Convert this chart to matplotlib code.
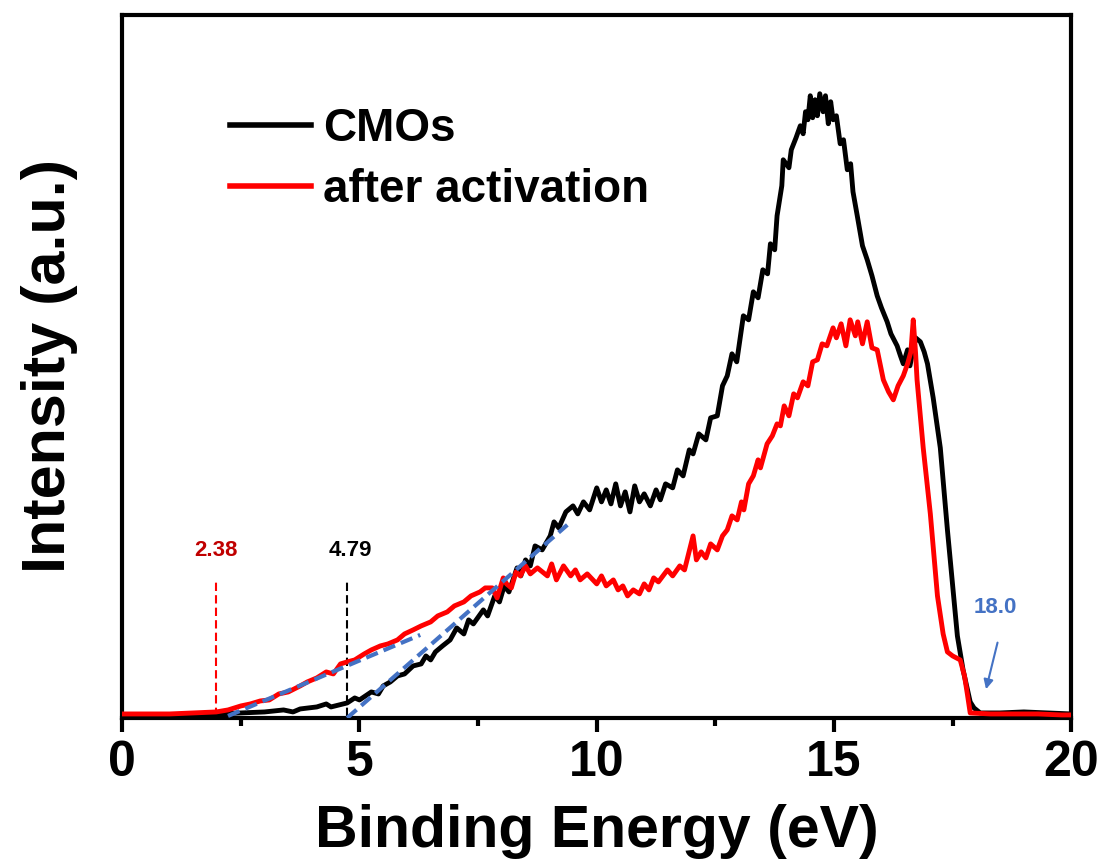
import numpy as np
import matplotlib
matplotlib.use('Agg')
import matplotlib.pyplot as plt

plt.rcParams['font.family'] = ['Liberation Sans', 'DejaVu Sans']
plt.rcParams['font.weight'] = 'bold'

# CMOs spectrum (binding energy eV, intensity a.u.)
cmo_x = [0, 0.5, 1.0, 1.5, 2.0, 2.5, 3.0, 3.4, 3.6, 3.75, 4.1, 4.3, 4.4, 4.74, 4.9,
         5.0, 5.25, 5.4, 5.5, 5.65, 5.8, 5.95, 6.13, 6.3, 6.4, 6.5, 6.6, 6.75, 6.91,
         7.05, 7.2, 7.3, 7.4, 7.61, 7.7, 7.85, 7.95, 8.05, 8.15, 8.32, 8.4, 8.5, 8.6,
         8.7, 8.85, 9.02, 9.1, 9.2, 9.35, 9.5, 9.6, 9.72, 9.85, 10.0, 10.1, 10.2, 10.3,
         10.4, 10.5, 10.6, 10.7, 10.8, 10.9, 11.0, 11.13, 11.25, 11.34, 11.45, 11.6,
         11.7, 11.82, 11.95, 12.03, 12.15, 12.3, 12.4, 12.54, 12.65, 12.75, 12.85,
         12.95, 13.09, 13.2, 13.3, 13.4, 13.5, 13.6, 13.66, 13.75, 13.8, 13.9, 13.93,
         14.05, 14.1, 14.2, 14.29, 14.35, 14.4, 14.45, 14.5, 14.55, 14.6, 14.65, 14.7,
         14.77, 14.82, 14.88, 14.93, 14.98, 15.05, 15.13, 15.2, 15.28, 15.35, 15.4,
         15.49, 15.6, 15.7, 15.8, 15.91, 16.0, 16.12, 16.2, 16.33, 16.4, 16.46, 16.55,
         16.6, 16.72, 16.82, 16.9, 16.97, 17.09, 17.24, 17.39, 17.45, 17.6, 17.72,
         17.87, 17.95, 18.08, 18.5, 19.0, 19.5, 20.0]
cmo_y = [1, 1, 1, 1, 2, 3, 4, 6, 4, 7, 9, 12, 9, 13, 18,
         16, 24, 22, 30, 34, 40, 42, 50, 52, 60, 56, 64, 70, 76,
         88, 82, 96, 92, 106, 100, 120, 114, 130, 124, 148, 140, 156, 150,
         170, 166, 180, 194, 188, 204, 210, 202, 214, 206, 228, 214, 226, 212,
         232, 210, 224, 204, 230, 214, 222, 210, 226, 216, 232, 228,
         246, 240, 266, 262, 282, 276, 298, 300, 330, 340, 362,
         354, 400, 396, 424, 418, 446, 442, 472, 466, 500, 530, 556,
         548, 566, 578, 590, 582, 604, 596, 620, 598, 616, 600, 622,
         604, 620, 592, 614, 596, 600, 572, 576, 546, 552, 524,
         500, 470, 456, 440, 420, 408, 394, 382, 370, 360, 352, 366,
         350, 378, 374, 364, 352, 318, 268, 186, 156, 80, 46,
         14, 8, 3, 3, 4, 3, 2]

# after activation spectrum
act_x = [0, 0.5, 1.0, 1.5, 1.98, 2.23, 2.5, 2.7, 2.91, 3.1, 3.3, 3.5, 3.75, 3.9, 4.1,
         4.3, 4.45, 4.6, 4.74, 4.9, 5.1, 5.25, 5.44, 5.6, 5.8, 5.95, 6.13, 6.3, 6.5,
         6.65, 6.85, 7.0, 7.2, 7.35, 7.54, 7.65, 7.8, 7.9, 8.03, 8.1, 8.2, 8.3, 8.39,
         8.5, 8.6, 8.75, 8.96, 9.05, 9.15, 9.3, 9.45, 9.55, 9.65, 9.8, 10.0, 10.1,
         10.2, 10.35, 10.45, 10.55, 10.65, 10.77, 10.9, 11.0, 11.1, 11.2, 11.3, 11.49,
         11.6, 11.75, 11.85, 12.03, 12.1, 12.2, 12.3, 12.4, 12.54, 12.65, 12.75, 12.85,
         12.96, 13.05, 13.1, 13.2, 13.3, 13.4, 13.45, 13.59, 13.7, 13.8, 13.87, 13.95,
         14.05, 14.15, 14.23, 14.35, 14.45, 14.55, 14.65, 14.75, 14.85, 14.98, 15.05,
         15.15, 15.25, 15.34, 15.45, 15.5, 15.6, 15.7, 15.8, 15.91, 16.04, 16.15,
         16.25, 16.35, 16.46, 16.55, 16.62, 16.67, 16.72, 16.75, 16.88, 17.03, 17.18,
         17.3, 17.39, 17.5, 17.66, 17.75, 17.81, 17.87, 18.3, 18.8, 19.3, 19.8, 20.0]
act_y = [2, 2, 2, 3, 4, 6, 10, 12, 15, 16, 22, 24, 30, 34, 38,
         44, 42, 52, 54, 56, 62, 66, 70, 72, 76, 82, 86, 90, 94,
         100, 104, 110, 114, 120, 124, 128, 128, 118, 138, 132, 128, 144, 140,
         150, 142, 148, 140, 152, 136, 150, 140, 146, 136, 142, 132, 140,
         130, 136, 126, 130, 120, 126, 122, 132, 126, 138, 134, 146,
         140, 150, 146, 180, 156, 164, 158, 172, 166, 180, 186, 200,
         196, 214, 206, 232, 240, 256, 248, 272, 280, 292, 290, 310,
         300, 322, 318, 334, 330, 354, 356, 372, 370, 388, 378,
         392, 370, 396, 380, 394, 372, 394, 368, 366, 336, 324,
         316, 330, 340, 352, 364, 396, 362, 336, 268, 202, 120,
         82, 64, 60, 56, 40, 22, 3, 2, 2, 2, 1, 1]

# fitted onset lines
fit_red_x = [2.23, 6.28]
fit_red_y = [0, 81]
fit_blk_x = [4.74, 9.38]
fit_blk_y = [-2, 191]

onset_red = 1.98
onset_blk = 4.74

fig = plt.figure(figsize=(11.01, 8.65), dpi=100)
ax = fig.add_axes([0.111, 0.170, 0.862, 0.813])

ax.plot(cmo_x, cmo_y, color='black', lw=3.5, label='CMOs', zorder=3)
ax.plot(act_x, act_y, color='#ff0000', lw=3.5, label='after activation', zorder=4)

blue = '#4472C4'
ax.plot(fit_red_x, fit_red_y, color=blue, lw=3, ls=(0, (3, 1.5)), zorder=5)
ax.plot(fit_blk_x, fit_blk_y, color=blue, lw=3, ls=(0, (3, 1.5)), zorder=5)

ax.plot([onset_red, onset_red], [0, 136], color='#ff0000', lw=1.5, ls=(0, (4, 2)), zorder=2)
ax.plot([onset_blk, onset_blk], [0, 134], color='black', lw=1.5, ls=(0, (4, 2)), zorder=2)

ax.text(onset_red, 165, '2.38', color='#C00000', fontsize=16, fontweight='bold',
        ha='center', va='center')
ax.text(onset_blk + 0.07, 165, '4.79', color='black', fontsize=16, fontweight='bold',
        ha='center', va='center')
ax.text(18.4, 108, '18.0', color=blue, fontsize=16, fontweight='bold',
        ha='center', va='center')
ax.annotate('', xy=(18.19, 24), xytext=(18.46, 76),
            arrowprops=dict(arrowstyle='-|>', color=blue, lw=1.5, mutation_scale=14))

ax.set_xlim(0, 20)
ax.set_ylim(-2, 701)
ax.set_xticks([0, 5, 10, 15, 20])
ax.set_xticks([2.5, 7.5, 12.5, 17.5], minor=True)
ax.set_yticks([])
ax.tick_params(axis='x', which='major', length=10, width=3, labelsize=36, pad=6)
ax.tick_params(axis='x', which='minor', length=6, width=3)
for s in ax.spines.values():
    s.set_linewidth(3)

ax.set_xlabel('Binding Energy (eV)', fontsize=42.5, fontweight='bold', labelpad=13)
ax.set_ylabel('Intensity (a.u.)', fontsize=44, fontweight='bold', labelpad=32)

leg = ax.legend(loc='upper left', bbox_to_anchor=(0.114, 0.869), frameon=False,
                borderaxespad=0, borderpad=0,
                fontsize=33, handlelength=1.75, handletextpad=0.28, labelspacing=0.38)
for line in leg.get_lines():
    line.set_linewidth(4)
for t in leg.get_texts():
    t.set_fontweight('bold')

fig.savefig('out.png', dpi=100)
